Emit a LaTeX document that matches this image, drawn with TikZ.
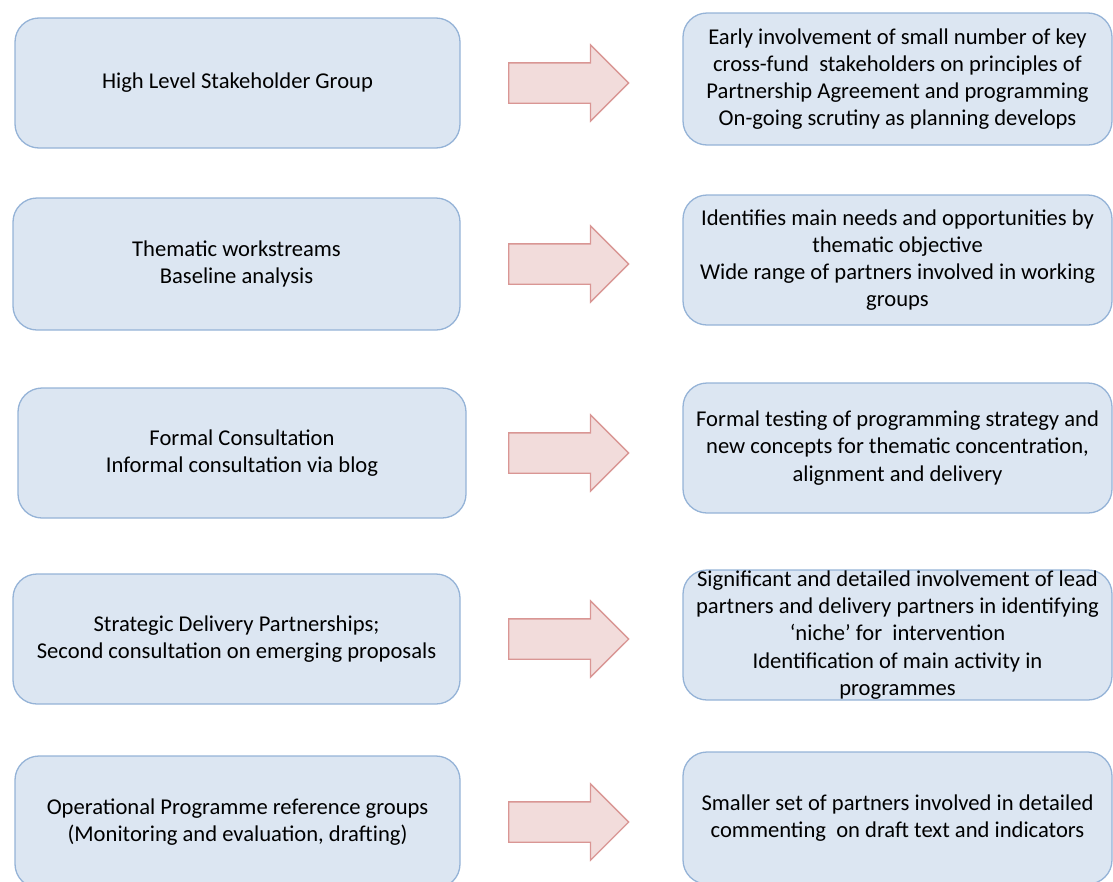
\documentclass[tikz,border=0pt]{standalone}
\usepackage{fontspec}
\setmainfont{Carlito}
\usetikzlibrary{shapes.arrows}

\definecolor{boxfill}{HTML}{DCE6F2}
\definecolor{boxline}{HTML}{95B3D7}
\definecolor{arrowfill}{HTML}{F2DCDB}
\definecolor{arrowline}{HTML}{D99694}

\begin{document}
\begin{tikzpicture}[x=1pt, y=-1pt,
    stage/.style={draw=boxline, fill=boxfill, line width=1.3pt, rounded corners=24pt,
        align=center, inner sep=0pt, font=\fontsize{22.6}{27.2}\selectfont},
    bigarrow/.style={single arrow, draw=arrowline, fill=arrowfill, line width=1.3pt,
        inner xsep=0pt, inner ysep=19.5pt, minimum height=120pt,
        single arrow head extend=18pt, single arrow head indent=0pt}]
    \useasboundingbox (0,0) rectangle (1113,881);
    \clip (0,0) rectangle (1113,881);

    % activities
    \node[stage, minimum width=445pt, minimum height=130pt] (l1) at (237.5,83) {High Level Stakeholder Group};
    \node[stage, minimum width=447pt, minimum height=132pt] (l2) at (236.5,264) {Thematic workstreams\\Baseline analysis};
    \node[stage, minimum width=448pt, minimum height=130pt] (l3) at (242,453) {Formal Consultation\\Informal consultation via blog};
    \node[stage, minimum width=447pt, minimum height=130pt] (l4) at (236.5,639) {Strategic Delivery Partnerships;\\Second consultation on emerging proposals};
    \node[stage, minimum width=445pt, minimum height=132pt] (l5) at (237.5,822) {Operational Programme reference groups\\(Monitoring and evaluation, drafting)};

    % partner involvement
    \node[stage, minimum width=429pt, minimum height=132pt] (r1) at (897.5,79) {Early involvement of small number of key\\cross-fund\ \ stakeholders on principles of\\Partnership Agreement and programming\\On-going scrutiny as planning develops};
    \node[stage, minimum width=429pt, minimum height=130pt] (r2) at (897.5,260) {Identifies main needs and opportunities by\\thematic objective\\Wide range of partners involved in working\\groups};
    \node[stage, minimum width=429pt, minimum height=130pt] (r3) at (897.5,448) {Formal testing of programming strategy and\\new concepts for thematic concentration,\\alignment and delivery};
    \node[stage, minimum width=429pt, minimum height=130pt] (r4) at (897.5,635) {Significant and detailed involvement of lead\\partners and delivery partners in identifying\\‘niche’ for\ \ intervention\\Identification of main activity in\\programmes};
    \node[stage, minimum width=429pt, minimum height=132pt] (r5) at (897.5,818) {Smaller set of partners involved in detailed\\commenting\ \ on draft text and indicators};

    \foreach \i in {1,...,5}
        \node[bigarrow, anchor=tail] (a\i) at (508,0 |- l\i.east) {};
\end{tikzpicture}
\end{document}
